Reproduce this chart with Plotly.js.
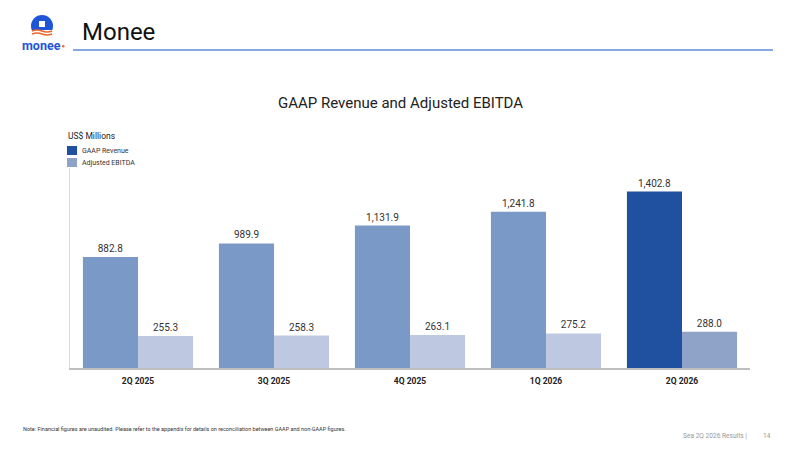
<!DOCTYPE html>
<html>
<head>
<meta charset="utf-8">
<script src="https://cdn.plot.ly/plotly-3.0.1.min.js"></script>
<style>html,body{margin:0;padding:0;background:#fff;}#chart{width:800px;height:450px;}</style>
</head>
<body>
<div id="chart"></div>
<script>
const categories = ["2Q 2025", "3Q 2025", "4Q 2025", "1Q 2026", "2Q 2026"];
const revenue = [882.8, 989.9, 1131.9, 1241.8, 1402.8];
const ebitda = [255.3, 258.3, 263.1, 275.2, 288.0];
const revenueColors = ["#7A99C7", "#7A99C7", "#7A99C7", "#7A99C7", "#2051A0"];
const ebitdaColors = ["#BEC9E1", "#BEC9E1", "#BEC9E1", "#BEC9E1", "#8FA3C8"];

const FONT = "Roboto, 'Open Sans', sans-serif";
// pixel -> paper helpers (plot area: x 70..750, y 168..368)
const L = 70, R = 750, T = 168, B = 368;
const px = x => (x - L) / (R - L);
const py = y => (B - y) / (B - T);

const traces = [
  {
    type: "bar", name: "GAAP Revenue", x: categories, y: revenue,
    marker: {color: revenueColors, line: {width: 0}},
    texttemplate: "%{y:,.1f}", textposition: "outside", cliponaxis: false,
    textfont: {family: FONT, size: 10, color: "#333333"}, hoverinfo: "none"
  },
  {
    type: "bar", name: "Adjusted EBITDA", x: categories, y: ebitda,
    marker: {color: ebitdaColors, line: {width: 0}},
    texttemplate: "%{y:,.1f}", textposition: "outside", cliponaxis: false,
    textfont: {family: FONT, size: 10, color: "#333333"}, hoverinfo: "none"
  }
];

const shapes = [
  // header underline
  {type: "line", xref: "paper", yref: "paper", x0: px(73), x1: px(773), y0: py(50), y1: py(50), line: {color: "#5B8BDB", width: 1.5}},
  // legend swatches
  {type: "rect", xref: "paper", yref: "paper", x0: px(67), x1: px(77), y0: py(146), y1: py(155), fillcolor: "#2051A0", line: {width: 0}},
  {type: "rect", xref: "paper", yref: "paper", x0: px(67), x1: px(77), y0: py(158), y1: py(167), fillcolor: "#8FA3C8", line: {width: 0}},
  // logo circle
  {type: "circle", xref: "paper", yref: "paper", x0: px(31), x1: px(53), y0: py(15), y1: py(37), fillcolor: "#1F55D6", line: {width: 0}},
  {type: "rect", xref: "paper", yref: "paper", x0: px(39), x1: px(45), y0: py(21), y1: py(27), fillcolor: "#ffffff", line: {width: 0}},
  {type: "rect", xref: "paper", yref: "paper", x0: px(30), x1: px(54), y0: py(30), y1: py(38), fillcolor: "#ffffff", line: {width: 0}},
  {type: "path", xref: "paper", yref: "paper", path: "M " + px(32) + "," + py(31) + " Q " + px(37) + "," + py(29) + " " + px(42) + "," + py(31) + " T " + px(52) + "," + py(31), line: {color: "#F0642A", width: 1.6}},
  {type: "path", xref: "paper", yref: "paper", path: "M " + px(32) + "," + py(34) + " Q " + px(37) + "," + py(32) + " " + px(42) + "," + py(34) + " T " + px(52) + "," + py(34), line: {color: "#F0642A", width: 1.6}},
  {type: "circle", xref: "paper", yref: "paper", x0: px(62), x1: px(64.5), y0: py(45), y1: py(47.5), fillcolor: "#F0642A", line: {width: 0}}
];

const annotations = [
  {text: "Monee", xref: "paper", yref: "paper", x: px(80), y: py(32), xanchor: "left", yanchor: "middle", showarrow: false, font: {family: FONT, size: 24, color: "#111111"}},
  {text: "<b>monee</b>", xref: "paper", yref: "paper", x: px(41), y: py(45), xanchor: "center", yanchor: "middle", showarrow: false, font: {family: FONT, size: 12.5, color: "#1F55D6"}},
  {text: "GAAP Revenue and Adjusted EBITDA", xref: "paper", yref: "paper", x: px(400), y: py(103), xanchor: "center", yanchor: "middle", showarrow: false, font: {family: FONT, size: 15, color: "#222222"}},
  {text: "US$ Millions", xref: "paper", yref: "paper", x: px(66), y: py(136), xanchor: "left", yanchor: "middle", showarrow: false, font: {family: FONT, size: 8.5, color: "#222222"}},
  {text: "GAAP Revenue", xref: "paper", yref: "paper", x: px(80), y: py(151), xanchor: "left", yanchor: "middle", showarrow: false, font: {family: FONT, size: 7, color: "#333333"}},
  {text: "Adjusted EBITDA", xref: "paper", yref: "paper", x: px(80), y: py(163), xanchor: "left", yanchor: "middle", showarrow: false, font: {family: FONT, size: 7, color: "#333333"}},
  {text: "Note: Financial figures are unaudited. Please refer to the appendix for details on reconciliation between GAAP and non-GAAP figures.", xref: "paper", yref: "paper", x: px(21), y: py(429), xanchor: "left", yanchor: "middle", showarrow: false, font: {family: FONT, size: 5.5, color: "#333333"}},
  {text: "Sea 2Q 2026 Results |", xref: "paper", yref: "paper", x: px(749), y: py(436), xanchor: "right", yanchor: "middle", showarrow: false, font: {family: FONT, size: 6.6, color: "#999999"}},
  {text: "14", xref: "paper", yref: "paper", x: px(767), y: py(436), xanchor: "center", yanchor: "middle", showarrow: false, font: {family: FONT, size: 6.6, color: "#999999"}}
];

const layout = {
  width: 800, height: 450,
  margin: {l: L, r: 800 - R, t: T, b: 450 - B, pad: 0},
  paper_bgcolor: "#ffffff", plot_bgcolor: "#ffffff",
  barmode: "group", bargap: 0.19, bargroupgap: 0,
  showlegend: false,
  font: {family: FONT},
  xaxis: {
    type: "category", showgrid: false, zeroline: false,
    showline: true, linecolor: "#BFBFBF", linewidth: 2,
    ticks: "", tickfont: {family: FONT, size: 8.5, color: "#222222", weight: "bold"},
    ticklabelstandoff: 4
  },
  yaxis: {
    range: [0, 1590], showgrid: false, zeroline: false, showticklabels: false,
    showline: true, linecolor: "#D9D9D9", linewidth: 1, ticks: ""
  },
  shapes: shapes,
  annotations: annotations
};

Plotly.newPlot("chart", traces, layout, {displayModeBar: false, staticPlot: true});
</script>
</body>
</html>
